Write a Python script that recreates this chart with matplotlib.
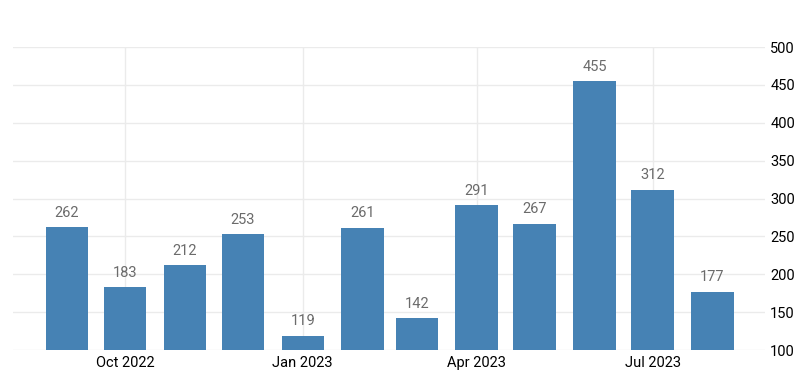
import datetime as dt
import matplotlib
matplotlib.use("Agg")
import matplotlib.pyplot as plt
import matplotlib.dates as mdates

# Datos mensuales
meses = [dt.date(2022, 9, 1), dt.date(2022, 10, 1), dt.date(2022, 11, 1), dt.date(2022, 12, 1),
         dt.date(2023, 1, 1), dt.date(2023, 2, 1), dt.date(2023, 3, 1), dt.date(2023, 4, 1),
         dt.date(2023, 5, 1), dt.date(2023, 6, 1), dt.date(2023, 7, 1), dt.date(2023, 8, 1)]
valores = [262, 183, 212, 253, 119, 261, 142, 291, 267, 455, 312, 177]
ticks_x = [dt.date(2022, 10, 1), dt.date(2023, 1, 1), dt.date(2023, 4, 1), dt.date(2023, 7, 1)]
etiquetas_x = ["Oct 2022", "Jan 2023", "Apr 2023", "Jul 2023"]
ticks_y = [100, 150, 200, 250, 300, 350, 400, 450, 500]

plt.rcParams['font.family'] = ['Roboto', 'DejaVu Sans']

fig = plt.figure(figsize=(8.1, 3.74), dpi=100)
ax = fig.add_axes([0.016, 0.064, 0.928, 0.810])

ax.bar(meses, valores, width=22, color='#4682b4', zorder=2)
for m, v in zip(meses, valores):
    ax.annotate(str(v), (mdates.date2num(m), v), xytext=(0, 5.5), textcoords='offset points',
                ha='center', va='bottom', fontsize=10.5, color='#6b6b6b')

ax.set_xlim(dt.date(2022, 8, 4), dt.date(2023, 8, 28))
ax.set_ylim(100, 500)
ax.set_xticks(ticks_x)
ax.set_xticklabels(etiquetas_x)
ax.set_yticks(ticks_y)
ax.yaxis.tick_right()
ax.tick_params(axis='both', length=0, labelsize=10.5, colors='black')
ax.tick_params(axis='y', pad=4)
ax.tick_params(axis='x', pad=4.5)
ax.grid(True, color='#ebebeb', linewidth=1, zorder=0)
for s in ax.spines.values():
    s.set_visible(False)

fig.savefig('out.png', dpi=100)
